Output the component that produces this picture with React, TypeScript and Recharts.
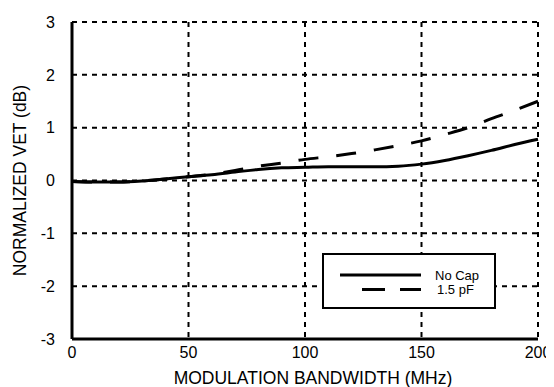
import React from 'react';
import {
  LineChart,
  Line,
  XAxis,
  YAxis,
  CartesianGrid,
  Legend,
} from 'recharts';

const bandwidth = [0, 10, 20, 30, 40, 50, 60, 70, 80, 90, 100, 110, 120, 130, 140, 150, 160, 170, 180, 190, 200];
const noCap = [-0.02, -0.03, -0.03, -0.01, 0.03, 0.07, 0.11, 0.16, 0.21, 0.24, 0.25, 0.26, 0.26, 0.26, 0.27, 0.31, 0.38, 0.47, 0.57, 0.68, 0.78];
const cap15pF = [-0.02, -0.03, -0.03, -0.01, 0.03, 0.07, 0.12, 0.19, 0.27, 0.33, 0.4, 0.45, 0.51, 0.58, 0.66, 0.75, 0.87, 1.0, 1.17, 1.33, 1.5];
const seriesNames = ['No Cap', '1.5 pF'];

const xTicks = [0, 50, 100, 150, 200];
const yTicks = [-3, -2, -1, 0, 1, 2, 3];
const xMinorTicks = [0, 10, 20, 30, 40, 50, 60, 70, 80, 90, 100, 110, 120, 130, 140, 150, 160, 170, 180, 190, 200];
const yMinorTicks = [
  -3, -2.8, -2.6, -2.4, -2.2, -2, -1.8, -1.6, -1.4, -1.2, -1, -0.8, -0.6, -0.4, -0.2, 0,
  0.2, 0.4, 0.6, 0.8, 1, 1.2, 1.4, 1.6, 1.8, 2, 2.2, 2.4, 2.6, 2.8, 3,
];

const data = bandwidth.map((bw, i) => ({ bw, noCap: noCap[i], cap: cap15pF[i] }));

const FONT = '"Liberation Sans", Arial, Helvetica, sans-serif';
const frame = { stroke: '#000', strokeWidth: 3 };
const minorLine = { stroke: '#000', strokeWidth: 1.5 };
const noLabel = () => <g />;

function LegendBox({ payload }: any) {
  const rows = [...(payload || [])].sort(
    (a: any, b: any) => seriesNames.indexOf(a.value) - seriesNames.indexOf(b.value)
  );
  return (
    <svg width={174} height={56} style={{ display: 'block' }}>
      <rect x={1} y={1} width={172} height={54} fill="#fff" stroke="#000" strokeWidth={2} />
      {rows.map((entry: any, i: number) => {
        const dashed = !!(entry.payload && entry.payload.strokeDasharray);
        const y = 22 + i * 14.5;
        return (
          <g key={entry.value}>
            <line
              x1={dashed ? 40 : 18}
              x2={99}
              y1={y}
              y2={y}
              stroke="#000"
              strokeWidth={3}
              strokeDasharray={dashed ? '23 15' : undefined}
            />
            <text
              x={dashed ? 115 : 113}
              y={y}
              dominantBaseline="central"
              fontSize={13}
              fontFamily={FONT}
              fill="#000"
            >
              {entry.value}
            </text>
          </g>
        );
      })}
    </svg>
  );
}

export default function App() {
  return (
    <div style={{ fontFamily: FONT }}>
      <LineChart
        width={546}
        height={379}
        data={data}
        margin={{ top: 14, right: 16, left: 0, bottom: 0 }}
      >
        <CartesianGrid stroke="#000" strokeWidth={2} strokeDasharray="5 5" />
        {/* minor tick axes, drawn inward */}
        <XAxis
          xAxisId="bm"
          type="number"
          dataKey="bw"
          domain={[0, 200]}
          allowDataOverflow
          ticks={xMinorTicks}
          orientation="bottom"
          mirror
          height={0}
          tickSize={4}
          axisLine={false}
          tickLine={minorLine}
          tick={noLabel}
        />
        <XAxis
          xAxisId="tm"
          type="number"
          dataKey="bw"
          domain={[0, 200]}
          allowDataOverflow
          ticks={xMinorTicks}
          orientation="top"
          mirror
          height={0}
          tickSize={4}
          axisLine={frame}
          tickLine={minorLine}
          tick={noLabel}
        />
        <YAxis
          yAxisId="lm"
          type="number"
          domain={[-3, 3]}
          allowDataOverflow
          ticks={yMinorTicks}
          orientation="left"
          mirror
          width={0}
          tickSize={4}
          axisLine={false}
          tickLine={minorLine}
          tick={noLabel}
        />
        <YAxis
          yAxisId="rm"
          type="number"
          domain={[-3, 3]}
          allowDataOverflow
          ticks={yMinorTicks}
          orientation="right"
          mirror
          width={0}
          tickSize={4}
          axisLine={frame}
          tickLine={minorLine}
          tick={noLabel}
        />
        <XAxis
          dataKey="bw"
          type="number"
          domain={[0, 200]}
          ticks={xTicks}
          height={48}
          tickLine={false}
          tickSize={0}
          tickMargin={8}
          axisLine={frame}
          tick={{ fill: '#000', fontSize: 16, fontFamily: FONT }}
          label={{
            value: 'MODULATION BANDWIDTH (MHz)',
            position: 'center',
            dx: 8,
            dy: 15,
            fill: '#000',
            fontSize: 17.5,
            fontFamily: FONT,
          }}
        />
        <YAxis
          type="number"
          domain={[-3, 3]}
          ticks={yTicks}
          width={64}
          tickLine={false}
          tickSize={0}
          tickMargin={17}
          axisLine={frame}
          tick={{ fill: '#000', fontSize: 16, fontFamily: FONT }}
          label={{
            value: 'NORMALIZED VET (dB)',
            angle: -90,
            position: 'center',
            dx: -20,
            fill: '#000',
            fontSize: 17.5,
            fontFamily: FONT,
          }}
        />
        <Line
          name={seriesNames[0]}
          type="monotone"
          dataKey="noCap"
          stroke="#000"
          strokeWidth={3}
          dot={false}
          isAnimationActive={false}
        />
        <Line
          name={seriesNames[1]}
          type="monotone"
          dataKey="cap"
          stroke="#000"
          strokeWidth={3}
          strokeDasharray="20 18"
          dot={false}
          isAnimationActive={false}
        />
        <Legend
          layout="vertical"
          align="center"
          verticalAlign="middle"
          content={<LegendBox />}
          wrapperStyle={{ position: 'absolute', left: 314, top: 245, width: 174, height: 56 }}
        />
      </LineChart>
    </div>
  );
}
